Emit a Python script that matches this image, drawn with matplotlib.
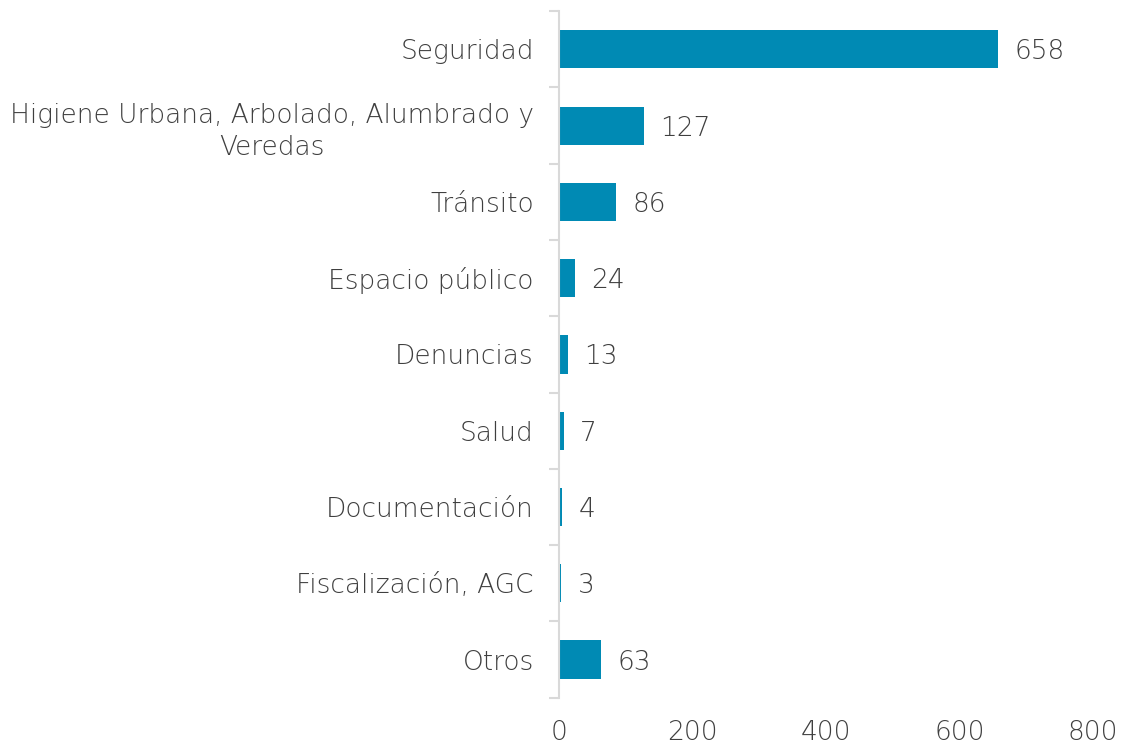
import numpy as np
import matplotlib.pyplot as plt

categorias = ["Seguridad", "Higiene Urbana, Arbolado, Alumbrado y\nVeredas", "Tránsito",
              "Espacio público", "Denuncias", "Salud", "Documentación",
              "Fiscalización, AGC", "Otros"]
valores = [658, 127, 86, 24, 13, 7, 4, 3, 63]
xticks = [0, 200, 400, 600, 800]

azul = "#008AB4"
gris = "#3f3f3f"

plt.rcParams['font.family'] = ['DejaVu Sans']

fig = plt.figure(figsize=(11.29, 7.47), dpi=100)
ax = fig.add_axes([0.495, 0.066, 0.473, 0.919])

y = np.arange(len(categorias))
ax.barh(y, valores, height=0.5, color=azul, zorder=2)
for yi, v in zip(y, valores):
    ax.text(v + 25, yi, str(v), va="center_baseline", ha="left", fontsize=19,
            color=gris, fontweight="light")

ax.set_ylim(len(categorias) - 0.5, -0.5)
ax.set_xlim(0, 800)
ax.set_xticks(xticks)
ax.set_xticklabels([str(t) for t in xticks])

ax.set_yticks(y)
ax.set_yticklabels(categorias, fontsize=19, color=gris, fontweight="light",
                   linespacing=1.35)
ax.set_yticks(np.arange(-0.5, len(categorias)), minor=True)
ax.tick_params(axis="y", which="major", length=0, pad=18)
ax.tick_params(axis="y", which="minor", length=7, color="#D9D9D9", width=1.5)
ax.tick_params(axis="x", length=0, labelsize=19, labelcolor=gris, pad=16)
for lbl in ax.get_xticklabels():
    lbl.set_fontweight("light")
for lbl in ax.get_yticklabels():
    lbl.set_horizontalalignment("right")
    lbl.set_multialignment("center")

for s in ["top", "right", "bottom"]:
    ax.spines[s].set_visible(False)
ax.spines["left"].set_color("#D9D9D9")
ax.spines["left"].set_linewidth(1.5)

fig.savefig("out.png", dpi=100)
